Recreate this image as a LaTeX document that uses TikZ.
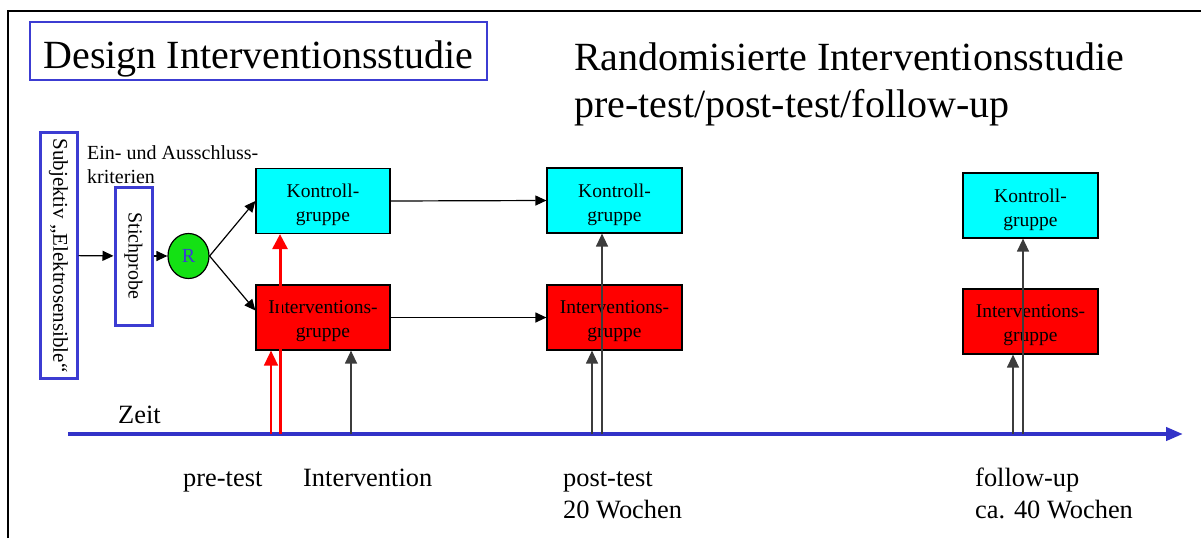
\documentclass[tikz,border=0pt]{standalone}
\usepackage{fontspec}
\setmainfont{Liberation Serif}
\usetikzlibrary{arrows.meta,shapes.geometric}
\definecolor{frameblue}{RGB}{60,60,210}
\definecolor{timeblue}{RGB}{50,50,200}
\definecolor{kcyan}{RGB}{0,255,255}
\definecolor{ired}{RGB}{255,0,0}
\definecolor{rgreen}{RGB}{20,225,20}
\definecolor{darkline}{RGB}{60,60,60}
\begin{document}
\begin{tikzpicture}[x=1pt,y=-1pt,
  grp/.style={draw=black, line width=1.2pt, minimum width=135pt, minimum height=65pt, inner sep=0pt},
  kbox/.style={grp, fill=kcyan},
  ibox/.style={grp, fill=ired},
  grptext/.style={inner sep=0pt, align=center, font=\fontsize{19.5}{24}\selectfont},
  vtextbox/.style={draw=frameblue, line width=3pt, rotate=-90, inner sep=0pt, minimum height=37pt, font=\fontsize{20}{24}\selectfont},
  arr/.style={line width=1.2pt, -{Triangle[length=11pt,width=10pt]}},
  varr/.style={darkline, line width=1.3pt, -{Triangle[length=13pt,width=12pt]}},
  lbl/.style={anchor=base west, inner sep=0pt, font=\fontsize{26.4}{30}\selectfont},
  smalllbl/.style={anchor=base west, inner sep=0pt, font=\fontsize{20}{24}\selectfont},
  biglbl/.style={anchor=base west, inner sep=0pt, font=\fontsize{40}{47}\selectfont}]
\useasboundingbox (0,0) rectangle (1201,538);
% frame
\draw[line width=1.5pt] (8,538) -- (8,11) -- (1201,11);
% titles
\node[draw=frameblue, line width=1.5pt, minimum width=457pt, minimum height=58pt, inner sep=0pt, text height=34pt, text depth=0pt, font=\fontsize{40}{47}\selectfont] (title) at (258.5,51) {Design Interventionsstudie};
\node[biglbl] (sub1) at (574,70) {Randomisierte Interventionsstudie};
\node[biglbl] (sub2) at (574,117) {pre-test/post-test/follow-up};
% left part
\node[vtextbox, minimum width=246pt, font=\fontsize{21}{24}\selectfont] (subj) at (58.5,255.5) {Subjektiv „Elektrosensible“};
\node[vtextbox, minimum width=138pt] (stich) at (133.5,256) {Stichprobe};
\node[smalllbl] (ein1) at (87,159) {Ein- und Ausschluss-};
\node[smalllbl] (ein2) at (87,183) {kriterien};
\node[ellipse, draw=black, line width=1.2pt, fill=rgreen, minimum width=41pt, minimum height=45pt, inner sep=0pt, text=frameblue, font=\fontsize{20}{24}\selectfont] (R) at (188.5,256) {R};
% group boxes
\node[kbox, minimum width=134pt] (K1) at (323,201) {};
\node[ibox, minimum width=134pt] (I1) at (323,317.5) {};
\node[kbox] (K2) at (614.5,200.5) {};
\node[ibox] (I2) at (614.5,317.5) {};
\node[kbox] (K3) at (1030.5,205.5) {};
\node[ibox] (I3) at (1030.5,321.5) {};
\node[grptext] (K1t) at ([yshift=-4pt]K1.center) {Kontroll-\\gruppe};
\node[grptext] (I1t) at ([yshift=-4pt]I1.center) {Interventions-\\gruppe};
\node[grptext] (K2t) at ([yshift=-4pt]K2.center) {Kontroll-\\gruppe};
\node[grptext] (I2t) at ([yshift=-4pt]I2.center) {Interventions-\\gruppe};
\node[grptext] (K3t) at ([yshift=-4pt]K3.center) {Kontroll-\\gruppe};
\node[grptext] (I3t) at ([yshift=-4pt]I3.center) {Interventions-\\gruppe};
% connectors
\draw[arr] (subj) -- (stich);
\draw[arr] (stich) -- (R);
\draw[arr] (R.east) -- (K1.west);
\draw[arr] (R.east) -- ([yshift=7pt]I1.west);
\draw[arr] (K1.east) -- (K2.west);
\draw[arr] (I1.east) -- (I2.west);
% time line
\coordinate (t0) at (68,434);
\coordinate (tE) at (1183,434);
\draw[timeblue, line width=4pt, -{Triangle[length=17pt,width=13pt]}] (t0) -- (tE);
\node[lbl] (zeit) at (118,423) {Zeit};
% vertical arrows
\coordinate (a1) at (271,434);
\coordinate (a2) at (280,434);
\coordinate (a3) at (351,434);
\coordinate (a4) at (592,434);
\coordinate (a5) at (602,434);
\coordinate (a6) at (1013,434);
\coordinate (a7) at (1023,434);
\draw[ired, line width=1.5pt, -{Triangle[length=15pt,width=14pt]}] (a1) -- (a1 |- I1.south);
\draw[ired, line width=3pt, -{Triangle[length=15pt,width=15pt]}] (a2) -- (a2 |- K1.south);
\draw[varr] (a3) -- (a3 |- I1.south);
\draw[varr] (a4) -- (a4 |- I2.south);
\draw[varr] (a5) -- (a5 |- K2.south);
\draw[varr] (a6) -- (a6 |- I3.south);
\draw[varr] (a7) -- (a7 |- K3.south);
% bottom labels
\node[lbl] (pre) at (183,486) {pre-test};
\node[lbl] (intv) at (303,486) {Intervention};
\node[lbl] (post1) at (563,486) {post-test};
\node[lbl] (post2) at (563,518) {20 Wochen};
\node[lbl] (fol1) at (975,486) {follow-up};
\node[lbl] (fol2) at (975,518) {ca. 40 Wochen};
\end{tikzpicture}
\end{document}
